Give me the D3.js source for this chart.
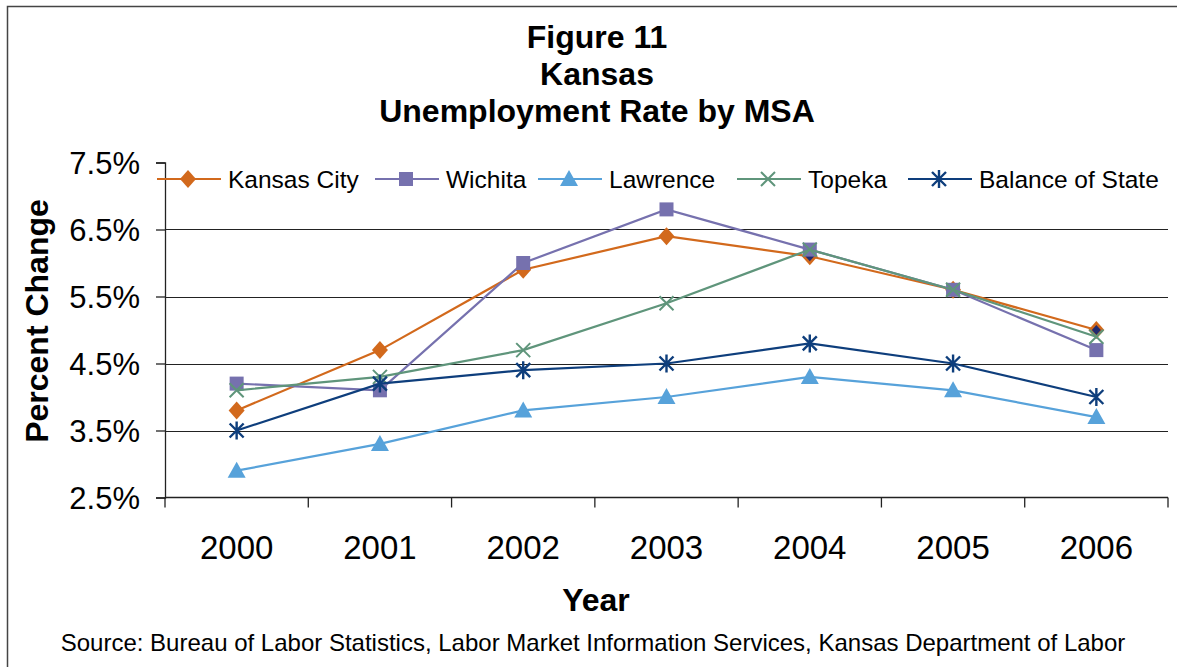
<!DOCTYPE html>
<html>
<head>
<title>Kansas Unemployment Rate by MSA</title>
<script src="https://cdn.jsdelivr.net/npm/d3@7"></script>
<style>
	body { margin: 0; background: #fff; }
	svg text { font-family: "Liberation Sans", Arial, sans-serif; fill: #000; }
</style>
</head>
<body>
<div id="chartContainer"></div>
<script>
	// data
	var years = ["2000", "2001", "2002", "2003", "2004", "2005", "2006"];
	var yTicks = [2.5, 3.5, 4.5, 5.5, 6.5, 7.5];
	var seriesNames = ["Kansas City", "Wichita", "Lawrence", "Topeka", "Balance of State"];
	var kansasCity = [3.8, 4.7, 5.9, 6.4, 6.1, 5.6, 5.0];
	var wichita = [4.2, 4.1, 6.0, 6.8, 6.2, 5.6, 4.7];
	var lawrence = [2.9, 3.3, 3.8, 4.0, 4.3, 4.1, 3.7];
	var topeka = [4.1, 4.3, 4.7, 5.4, 6.2, 5.6, 4.9];
	var balanceOfState = [3.5, 4.2, 4.4, 4.5, 4.8, 4.5, 4.0];
	// Kansas City points drawn with a dark inner diamond in the original
	var kcDarkPoints = ["2004", "2006"];

	var colors = ["#d2691c", "#7671ae", "#57a2da", "#5f957b", "#0e3e7c"];
	var markers = ["diamond", "square", "triangle", "cross", "star"];
	var allValues = [kansasCity, wichita, lawrence, topeka, balanceOfState];

	var W = 1177, H = 667;
	var svg = d3.select("#chartContainer").append("svg")
		.attr("width", W).attr("height", H);

	// outer frame
	svg.append("rect").attr("x", 7.5).attr("y", 6.5)
		.attr("width", W).attr("height", H)
		.attr("fill", "none").attr("stroke", "#444").attr("stroke-width", 1.5);

	var plot = {left: 165, right: 1168, top: 162.5, bottom: 497.5};

	var x = d3.scaleBand().domain(years).range([plot.left, plot.right]);
	var y = d3.scaleLinear().domain([2.5, 7.5]).range([plot.bottom, plot.top]);

	// titles
	var titles = ["Figure 11", "Kansas", "Unemployment Rate by MSA"];
	var titleY = [48, 85, 122];
	svg.selectAll(".title").data(titles).enter().append("text")
		.attr("x", 597).attr("y", function(d, i) { return titleY[i]; })
		.attr("text-anchor", "middle").style("font-size", "32px").style("font-weight", "bold")
		.text(function(d) { return d; });

	// gridlines (none on the top value, the legend sits there)
	svg.append("g").selectAll("line").data(yTicks.slice(1, -1)).enter().append("line")
		.attr("x1", plot.left).attr("x2", plot.right)
		.attr("y1", function(d) { return Math.round(y(d)) + 0.5; })
		.attr("y2", function(d) { return Math.round(y(d)) + 0.5; })
		.attr("stroke", "#222").attr("stroke-width", 1.2);

	// y axis
	var yAxis = svg.append("g").attr("transform", "translate(" + plot.left + ",0)")
		.call(d3.axisLeft(y).tickValues(yTicks).tickSize(9).tickPadding(16)
			.tickFormat(function(d) { return d.toFixed(1) + "%"; }));
	yAxis.select(".domain").attr("stroke", "#222").attr("stroke-width", 1.3);
	yAxis.selectAll(".tick line").attr("stroke", "#222").attr("stroke-width", 1.3);
	yAxis.selectAll("text").style("font-size", "31px").attr("dy", "0.36em");

	// x axis: ticks fall between the categories
	var bounds = years.map(function(d) { return x(d); }).concat([plot.right]);
	var xAxis = svg.append("g");
	xAxis.append("line").attr("x1", plot.left).attr("x2", plot.right)
		.attr("y1", plot.bottom).attr("y2", plot.bottom)
		.attr("stroke", "#222").attr("stroke-width", 1.3);
	xAxis.selectAll(".xt").data(bounds).enter().append("line")
		.attr("x1", function(d) { return d; }).attr("x2", function(d) { return d; })
		.attr("y1", plot.bottom).attr("y2", plot.bottom + 10)
		.attr("stroke", "#222").attr("stroke-width", 1.3);
	xAxis.selectAll(".xl").data(years).enter().append("text")
		.attr("x", function(d) { return x(d) + x.bandwidth() / 2; })
		.attr("y", 559).attr("text-anchor", "middle").style("font-size", "33px")
		.text(function(d) { return d; });

	// axis titles
	svg.append("text").attr("transform", "translate(48,321) rotate(-90)")
		.attr("text-anchor", "middle").style("font-size", "32px").style("font-weight", "bold")
		.text("Percent Change");
	svg.append("text").attr("x", 596).attr("y", 611)
		.attr("text-anchor", "middle").style("font-size", "32px").style("font-weight", "bold")
		.text("Year");
	svg.append("text").attr("x", 593).attr("y", 651)
		.attr("text-anchor", "middle").style("font-size", "24px")
		.text("Source: Bureau of Labor Statistics, Labor Market Information Services, Kansas Department of Labor");

	// marker drawing
	function drawMarker(g, type, cx, cy, color) {
		if (type === "diamond") {
			g.append("path").attr("d", "M" + cx + "," + (cy - 9) + "L" + (cx + 8) + "," + cy +
				"L" + cx + "," + (cy + 9) + "L" + (cx - 8) + "," + cy + "Z")
				.attr("fill", color);
		} else if (type === "square") {
			g.append("rect").attr("x", cx - 7).attr("y", cy - 7).attr("width", 14).attr("height", 14)
				.attr("fill", color);
		} else if (type === "triangle") {
			g.append("path").attr("d", "M" + cx + "," + (cy - 9) + "L" + (cx + 9) + "," + (cy + 7) + "L" + (cx - 9) + "," + (cy + 7) + "Z")
				.attr("fill", color);
		} else if (type === "cross") {
			g.append("path").attr("d", "M" + (cx - 7) + "," + (cy - 7) + "L" + (cx + 7) + "," + (cy + 7) +
				"M" + (cx + 7) + "," + (cy - 7) + "L" + (cx - 7) + "," + (cy + 7))
				.attr("stroke", color).attr("stroke-width", 2).attr("fill", "none");
		} else if (type === "star") {
			g.append("path").attr("d", "M" + (cx - 7) + "," + (cy - 7) + "L" + (cx + 7) + "," + (cy + 7) +
				"M" + (cx + 7) + "," + (cy - 7) + "L" + (cx - 7) + "," + (cy + 7) +
				"M" + cx + "," + (cy - 9) + "L" + cx + "," + (cy + 9))
				.attr("stroke", color).attr("stroke-width", 2.4).attr("fill", "none");
		}
	}

	var line = d3.line()
		.x(function(d, i) { return x(years[i]) + x.bandwidth() / 2; })
		.y(function(d) { return y(d); });

	allValues.forEach(function(vals, s) {
		var g = svg.append("g");
		g.append("path").datum(vals).attr("d", line)
			.attr("fill", "none").attr("stroke", colors[s]).attr("stroke-width", 2.2);
		vals.forEach(function(v, i) {
			var cx = x(years[i]) + x.bandwidth() / 2;
			drawMarker(g, markers[s], cx, y(v), colors[s]);
			if (s === 0 && kcDarkPoints.indexOf(years[i]) >= 0) {
				g.append("path").attr("d", "M" + cx + "," + (y(v) - 5) + "L" + (cx + 4.5) + "," + y(v) +
					"L" + cx + "," + (y(v) + 5) + "L" + (cx - 4.5) + "," + y(v) + "Z")
					.attr("fill", "#1f2a6e");
			}
		});
	});

	// legend
	var legendX = [157, 375, 538, 737, 908];
	var legendY = 179;
	seriesNames.forEach(function(name, s) {
		var g = svg.append("g");
		g.append("line").attr("x1", legendX[s]).attr("x2", legendX[s] + 64)
			.attr("y1", legendY).attr("y2", legendY)
			.attr("stroke", colors[s]).attr("stroke-width", 2.2);
		drawMarker(g, markers[s], legendX[s] + 31, legendY, colors[s]);
		g.append("text").attr("x", legendX[s] + 71).attr("y", legendY + 9)
			.style("font-size", "24.5px").text(name);
	});
</script>
</body>
</html>
